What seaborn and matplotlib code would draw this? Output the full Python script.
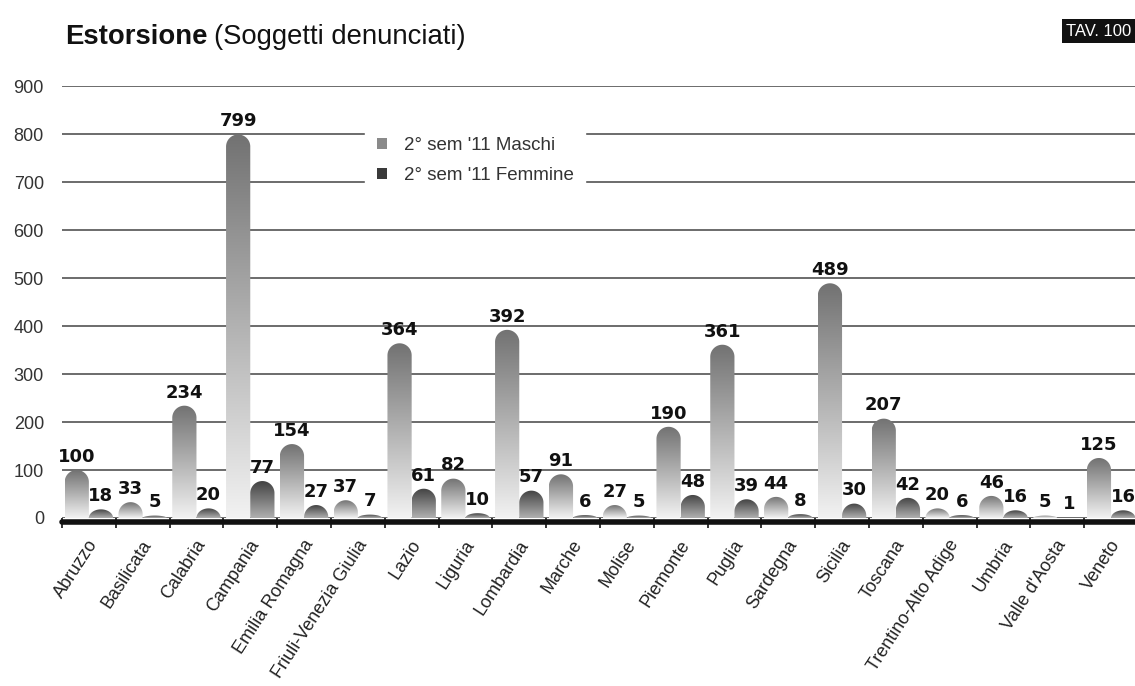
import numpy as np
import pandas as pd
import matplotlib
matplotlib.use('Agg')
import matplotlib.pyplot as plt
import matplotlib.transforms as mtransforms
import seaborn as sns
from matplotlib.path import Path
from matplotlib.patches import PathPatch, Patch
from matplotlib.colors import to_rgb

# dati: soggetti denunciati per estorsione, 2° semestre 2011
regioni = ['Abruzzo', 'Basilicata', 'Calabria', 'Campania', 'Emilia Romagna',
           'Friuli-Venezia Giulia', 'Lazio', 'Liguria', 'Lombardia', 'Marche',
           'Molise', 'Piemonte', 'Puglia', 'Sardegna', 'Sicilia', 'Toscana',
           'Trentino-Alto Adige', 'Umbria', "Valle d'Aosta", 'Veneto']
maschi = [100, 33, 234, 799, 154, 37, 364, 82, 392, 91,
          27, 190, 361, 44, 489, 207, 20, 46, 5, 125]
femmine = [18, 5, 20, 77, 27, 7, 61, 10, 57, 6,
           5, 48, 39, 8, 30, 42, 6, 16, 1, 16]
serie = ["2° sem '11 Maschi", "2° sem '11 Femmine"]
y_ticks = [0, 100, 200, 300, 400, 500, 600, 700, 800, 900]

# colori sfumatura (alto, basso) e colore legenda
grad_colors = {serie[0]: ('#727272', '#f2f2f2'), serie[1]: ('#424242', '#b0b0b0')}
legend_colors = {serie[0]: '#8a8a8a', serie[1]: '#3a3a3a'}

df = pd.DataFrame({
    'regione': regioni * 2,
    'valore': maschi + femmine,
    'sesso': [serie[0]] * len(regioni) + [serie[1]] * len(regioni),
})

sns.set_style('white')
plt.rcParams['font.family'] = ['Liberation Sans', 'DejaVu Sans']

fig = plt.figure(figsize=(11.35, 6.86), dpi=100)
ax = fig.add_axes([0.0546, 0.2449, 0.948, 0.6297])

sns.barplot(data=df, x='regione', y='valore', hue='sesso', order=regioni,
            hue_order=serie, palette=[legend_colors[s] for s in serie],
            width=0.9, ax=ax, legend=False, errorbar=None)

ax.set_xlim(-0.5, len(regioni) - 0.5)
ax.set_ylim(0, 900)

# pixel per unità, per fare la calotta semicircolare
p0 = ax.transData.transform((0, 0))
p1 = ax.transData.transform((1, 1))
px_x = p1[0] - p0[0]
px_y = p1[1] - p0[1]


def draw_cylinder(ax, x0, w, h, top, bottom):
    ry = (w * px_x / 2) / px_y
    cap = min(ry, h)
    base = h - cap
    th = np.linspace(np.pi, 0, 60)
    xs = x0 + w / 2 + (w / 2) * np.cos(th)
    ys = base + cap * np.sin(th)
    verts = [(x0, 0)] + list(zip(xs, ys)) + [(x0 + w, 0), (x0, 0)]
    codes = [Path.MOVETO] + [Path.LINETO] * (len(verts) - 2) + [Path.CLOSEPOLY]
    patch = PathPatch(Path(verts, codes), facecolor='none', edgecolor='none')
    ax.add_patch(patch)
    t = np.linspace(0, 1, 200)[:, None, None]
    c_top = np.array(to_rgb(top))
    c_bot = np.array(to_rgb(bottom))
    img = c_bot + (c_top - c_bot) * t
    img = np.repeat(img, 2, axis=1)
    im = ax.imshow(img, extent=[x0, x0 + w, 0, h], origin='lower', aspect='auto',
                   interpolation='bilinear', zorder=2)
    im.set_clip_path(patch)


for k, cont in enumerate(ax.containers):
    top, bottom = grad_colors[serie[k]]
    for bar in cont:
        x0 = bar.get_x()
        w = bar.get_width()
        h = bar.get_height()
        bar.set_visible(False)
        draw_cylinder(ax, x0, w, h, top, bottom)
        ax.annotate(f'{int(round(h))}', (x0 + w / 2, h), xytext=(0, 3),
                    textcoords='offset points', ha='center', va='bottom',
                    fontsize=13, fontweight='bold', family='DejaVu Sans',
                    color='#111111', zorder=4)

ax.set_xlim(-0.5, len(regioni) - 0.5)
ax.set_ylim(0, 900)
ax.set_aspect('auto')

# griglia e asse
ax.set_yticks(y_ticks)
ax.yaxis.grid(True, color='#444444', linewidth=1.1, zorder=0)
ax.set_axisbelow(True)
for s in ax.spines.values():
    s.set_visible(False)
base_line = ax.axhline(0, color='#111111', linewidth=4, zorder=3, clip_on=False)
base_line.set_transform(ax.get_yaxis_transform() +
                        mtransforms.ScaledTranslation(0, -2.8 / 72, fig.dpi_scale_trans))
ax.set_xticks(np.arange(-0.5, len(regioni), 1), minor=True)
ax.tick_params(axis='x', which='minor', length=7, width=1.2, color='#111111',
               direction='out', bottom=True)
ax.tick_params(axis='x', which='major', length=0, pad=17)
ax.tick_params(axis='y', length=0, pad=13, labelsize=13, labelcolor='#333333')
ax.set_xticks(range(len(regioni)))
ax.set_xticklabels(regioni, rotation=57, ha='right', va='center',
                   rotation_mode='anchor', fontsize=13, color='#222222')
shift = mtransforms.ScaledTranslation(4 / 72, 0, fig.dpi_scale_trans)
for lab in ax.get_xticklabels():
    lab.set_transform(lab.get_transform() + shift)
ax.set_xlabel('')
ax.set_ylabel('')

handles = [Patch(facecolor=legend_colors[s], edgecolor='none', label=s) for s in serie]
leg = ax.legend(handles=handles, loc='upper left', bbox_to_anchor=(0.2732, 0.930),
                frameon=True, facecolor='white', edgecolor='white', framealpha=1,
                fancybox=False, fontsize=13.5, handlelength=0.55, handleheight=0.55,
                handletextpad=0.9, labelspacing=0.7, borderpad=0.6)
leg.set_zorder(5)
for txt in leg.get_texts():
    txt.set_color('#333333')

# titolo
t1 = fig.text(0.0573, 0.9359, 'Estorsione', fontsize=19.8, fontweight='bold',
              ha='left', va='baseline', color='#111111')
fig.canvas.draw()
bb = t1.get_window_extent()
fig.text((bb.x1 + 6) / fig.bbox.width, 0.9359, '(Soggetti denunciati)', fontsize=19.8,
         ha='left', va='baseline', color='#111111')
fig.text(0.9965, 0.9548, 'TAV. 100', fontsize=12, color='white', ha='right', va='center',
         bbox=dict(boxstyle='square,pad=0.25', facecolor='#111111', edgecolor='none'))

fig.savefig('out.png', dpi=100)
